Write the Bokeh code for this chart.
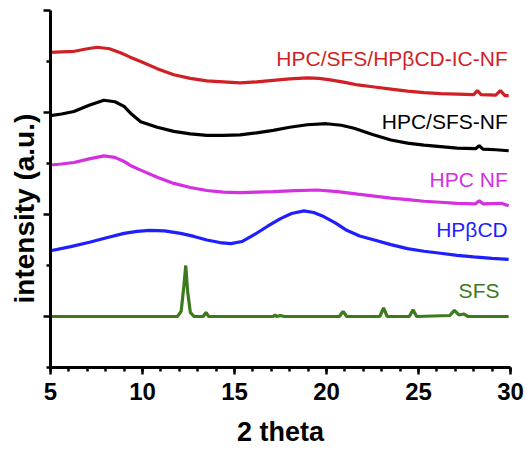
from bokeh.plotting import figure
from bokeh.models import FixedTicker, SingleIntervalTicker, Range1d, CustomJSTickFormatter, Title
from bokeh.embed import file_html
from bokeh.resources import INLINE

# ---- data (stacked offsets included) ----
red_x = [5.0, 5.6, 6.3, 7.0, 7.54, 8.2, 8.8, 9.3, 9.9, 10.8, 11.7, 12.6, 13.5, 14.4, 15.3, 16.2, 17.1, 18.0, 18.95, 19.6, 20.2, 21.0, 21.7, 22.6, 23.5, 24.4, 25.3, 26.2, 27.1, 28.0, 28.2, 28.4, 29.2, 29.45, 29.7, 29.9]
red_y = [6.18, 6.19, 6.20, 6.25, 6.28, 6.25, 6.17, 6.09, 6.00, 5.86, 5.74, 5.67, 5.62, 5.60, 5.58, 5.60, 5.63, 5.66, 5.68, 5.67, 5.64, 5.59, 5.54, 5.50, 5.46, 5.42, 5.39, 5.37, 5.36, 5.35, 5.43, 5.35, 5.34, 5.43, 5.33, 5.33]

blk_x = [5.0, 5.6, 6.27, 7.1, 7.9, 8.5, 9.0, 9.4, 9.9, 10.8, 11.7, 12.6, 13.5, 14.4, 15.3, 16.2, 17.1, 18.0, 18.95, 20.0, 20.8, 21.5, 22.5, 23.5, 24.4, 25.3, 26.2, 27.1, 28.1, 28.3, 28.5, 29.2, 29.9]
blk_y = [4.94, 4.97, 5.02, 5.14, 5.24, 5.21, 5.12, 4.97, 4.82, 4.71, 4.63, 4.58, 4.55, 4.55, 4.56, 4.60, 4.65, 4.71, 4.76, 4.78, 4.75, 4.69, 4.57, 4.46, 4.40, 4.36, 4.33, 4.30, 4.29, 4.35, 4.28, 4.27, 4.25]

mag_x = [5.0, 5.6, 6.27, 7.1, 7.9, 8.5, 9.0, 9.4, 9.9, 10.8, 11.7, 12.6, 13.5, 14.4, 15.3, 16.2, 17.1, 18.3, 19.5, 20.6, 21.7, 22.6, 23.5, 24.4, 25.3, 26.2, 27.1, 28.1, 28.3, 28.5, 29.5, 29.9]
mag_y = [3.97, 3.99, 4.02, 4.09, 4.15, 4.12, 4.04, 3.95, 3.87, 3.73, 3.61, 3.53, 3.47, 3.44, 3.43, 3.44, 3.45, 3.47, 3.48, 3.45, 3.40, 3.36, 3.32, 3.29, 3.26, 3.24, 3.22, 3.21, 3.27, 3.21, 3.22, 3.17]

blu_x = [5.0, 6.1, 7.17, 8.1, 9.0, 9.7, 10.4, 11.2, 12.07, 12.8, 13.5, 14.2, 14.8, 15.4, 16.05, 16.8, 17.5, 18.1, 18.77, 19.3, 19.85, 20.5, 21.1, 21.8, 22.6, 23.5, 24.4, 25.3, 26.2, 27.1, 28.0, 29.0, 29.9]
blu_y = [2.29, 2.37, 2.46, 2.55, 2.63, 2.67, 2.69, 2.68, 2.63, 2.57, 2.50, 2.45, 2.43, 2.47, 2.60, 2.77, 2.92, 3.02, 3.07, 3.04, 2.96, 2.83, 2.69, 2.58, 2.50, 2.41, 2.33, 2.28, 2.24, 2.20, 2.17, 2.14, 2.12]

grn_x = [5.0, 11.9, 12.1, 12.25, 12.35, 12.45, 12.6, 12.8, 13.3, 13.45, 13.6, 17.1, 17.2, 17.3, 17.5, 17.7, 20.7, 20.9, 21.1, 22.9, 23.1, 23.3, 24.5, 24.7, 24.9, 26.7, 26.95, 27.2, 27.45, 27.7, 29.9]
grn_y = [1.0, 1.0, 1.1, 1.6, 2.0, 1.5, 1.08, 1.0, 1.0, 1.08, 1.0, 1.0, 1.03, 1.0, 1.02, 1.0, 1.0, 1.1, 1.0, 1.0, 1.17, 1.0, 1.0, 1.13, 1.0, 1.02, 1.12, 1.03, 1.05, 1.0, 1.0]

series_names = ["HPC/SFS/HPβCD-IC-NF", "HPC/SFS-NF", "HPC NF", "HPβCD", "SFS"]
x_ticks = [5, 10, 15, 20, 25, 30]

colors = ["#d11f26", "#000000", "#d42fe0", "#1e1eff", "#3d7a1c"]

p = figure(width=526, height=451, output_backend="svg", toolbar_location=None,
           x_range=Range1d(5, 30), y_range=Range1d(0, 7),
           min_border_left=50, min_border_right=16, min_border_top=10, min_border_bottom=84)
p.outline_line_color = None
p.grid.visible = False
p.background_fill_color = "white"

xs = [red_x, blk_x, mag_x, blu_x, grn_x]
ys = [red_y, blk_y, mag_y, blu_y, grn_y]
for x, y, c in zip(xs, ys, colors):
    p.line(x, y, line_color=c, line_width=3.2)

# labels
label_x = [29.85, 29.85, 29.85, 29.85, 29.4]
label_y = [6.06, 4.82, 3.68, 2.70, 1.51]
p.text(x=label_x, y=label_y, text=series_names, text_color=colors,
       text_align="right", text_baseline="alphabetic",
       text_font={"value": "Liberation Sans"}, text_font_size="21px")

# axes
xa = p.xaxis[0]
xa.ticker = SingleIntervalTicker(interval=5, num_minor_ticks=5)
xa.axis_label = "2 theta"
xa.axis_label_text_font = "Liberation Sans"
xa.axis_label_text_font_style = "bold"
xa.axis_label_text_font_size = "27px"
xa.axis_label_standoff = 14
xa.major_label_text_font = "Liberation Sans"
xa.major_label_text_font_style = "bold"
xa.major_label_text_font_size = "24px"
xa.major_label_standoff = 8
xa.major_label_overrides = {t: str(t) for t in x_ticks}

ya = p.yaxis[0]
ya.ticker = FixedTicker(ticks=[1, 3, 5, 7], minor_ticks=[0, 2, 4, 6])
ya.formatter = CustomJSTickFormatter(code="return ''")
ya.major_label_standoff = 0

ytitle = Title(text="intensity (a.u.)", align="left", offset=64, standoff=8,
               text_font="Liberation Sans", text_font_style="bold",
               text_font_size="28px", text_color="black")
p.add_layout(ytitle, "left")

for ax in (xa, ya):
    ax.axis_line_width = 3
    ax.axis_line_color = "black"
    ax.major_tick_line_width = 2.5
    ax.minor_tick_line_width = 2.5
    ax.major_tick_in = 0
    ax.major_tick_out = 7
    ax.minor_tick_in = 0
    ax.minor_tick_out = 4
    ax.major_label_text_color = "black"
    ax.axis_label_text_color = "black"

open("out.html", "w").write(file_html(p, INLINE))
